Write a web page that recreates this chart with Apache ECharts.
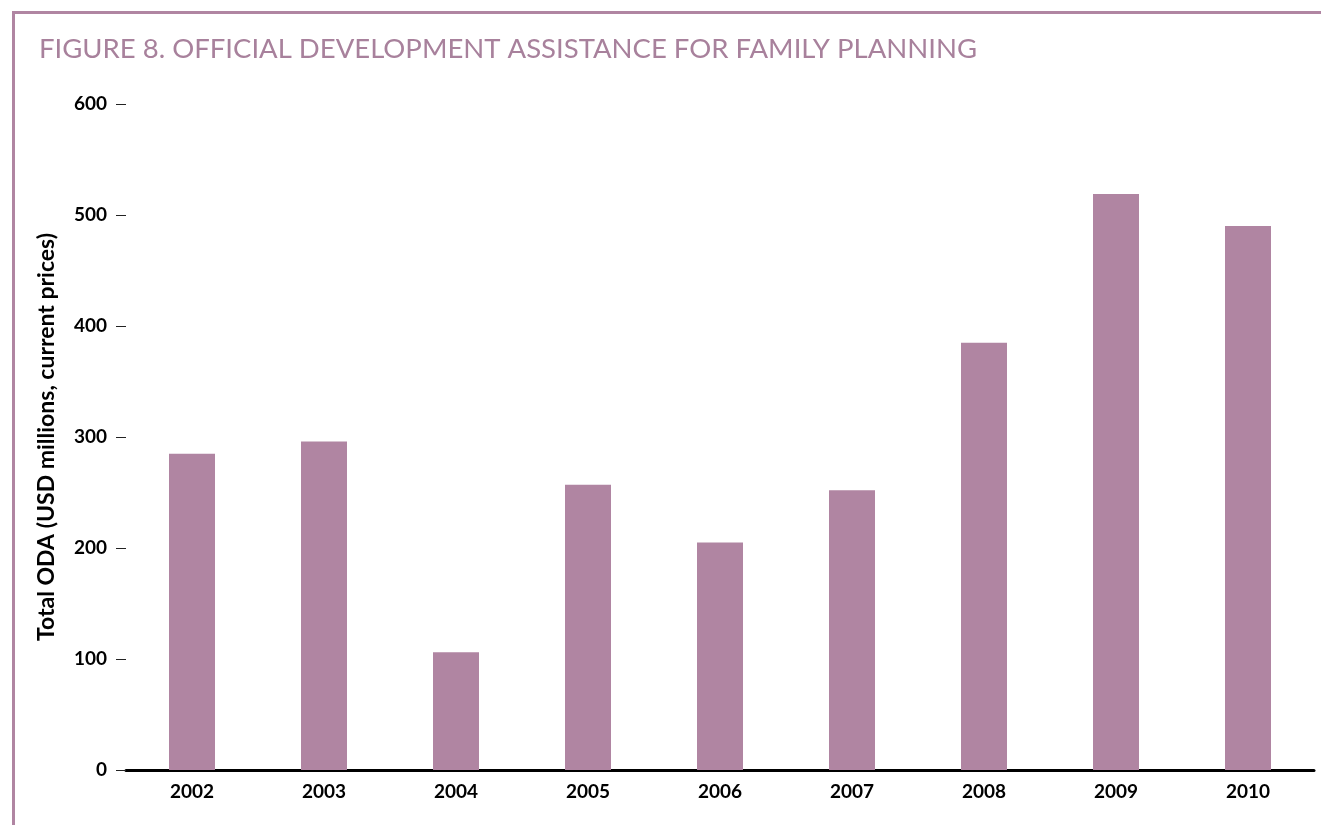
<!DOCTYPE html>
<html>
<head>
<meta charset="utf-8">
<script src="https://cdn.jsdelivr.net/npm/echarts@6/dist/echarts.min.js"></script>
<style>
  html, body { margin: 0; padding: 0; background: #fff; }
  #chart { width: 1321px; height: 825px; }
</style>
</head>
<body>
<div id="chart"></div>
<script>
// Family planning ODA by year (USD millions, current prices)
const years = ['2002', '2003', '2004', '2005', '2006', '2007', '2008', '2009', '2010'];
const odaValues = [285, 296, 106, 257, 205, 252, 385, 519, 490];
const yTicks = [0, 100, 200, 300, 400, 500, 600];

const accent = '#b085a2';
const chart = echarts.init(document.getElementById('chart'));

chart.setOption({
  animation: false,
  backgroundColor: '#ffffff',
  title: {
    text: 'FIGURE 8. OFFICIAL DEVELOPMENT ASSISTANCE FOR FAMILY PLANNING',
    left: 34,
    top: 30,
    textStyle: {
      fontFamily: 'Lato',
      fontWeight: 'normal',
      fontSize: 27.5,
      color: '#a8819c'
    }
  },
  graphic: [
    // panel frame: top and left rules
    { type: 'rect', shape: { x: 12, y: 11, width: 1309, height: 3 }, style: { fill: accent } },
    { type: 'rect', shape: { x: 12, y: 11, width: 3, height: 814 }, style: { fill: accent } }
  ],
  grid: { left: 126, right: 7, top: 104, bottom: 55, containLabel: false },
  xAxis: {
    type: 'category',
    data: years,
    axisLine: { lineStyle: { color: '#000', width: 3 } },
    axisTick: { show: false },
    axisLabel: {
      margin: 12,
      fontFamily: 'Lato',
      fontWeight: 'bold',
      fontSize: 19,
      color: '#000'
    }
  },
  yAxis: {
    type: 'value',
    min: yTicks[0],
    max: yTicks[yTicks.length - 1],
    interval: 100,
    name: 'Total ODA (USD millions, current prices)',
    nameLocation: 'middle',
    nameGap: 68,
    nameRotate: 90,
    nameTextStyle: {
      fontFamily: 'Lato',
      fontWeight: 'bold',
      fontSize: 23,
      color: '#000'
    },
    axisLine: { show: false },
    axisTick: { show: true, length: 10, lineStyle: { color: '#222', width: 1 } },
    splitLine: { show: false },
    axisLabel: {
      margin: 19,
      fontFamily: 'Lato',
      fontWeight: 'bold',
      fontSize: 19,
      color: '#000'
    }
  },
  series: [{
    type: 'bar',
    data: odaValues,
    barWidth: 46,
    itemStyle: { color: accent }
  }]
});
</script>
</body>
</html>
